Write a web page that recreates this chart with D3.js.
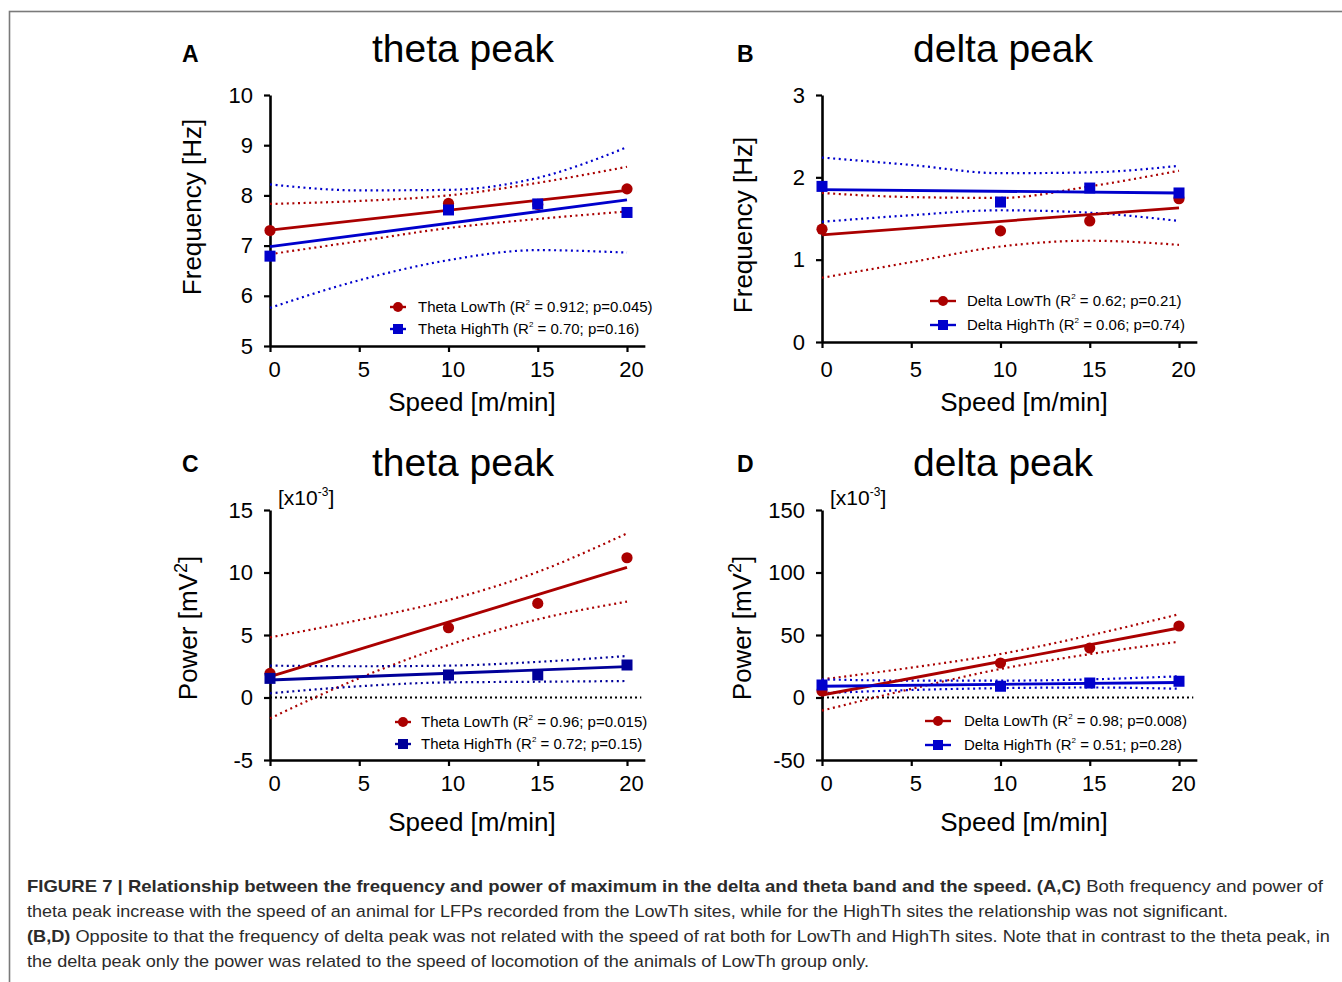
<!DOCTYPE html>
<html><head><meta charset="utf-8">
<script src="https://cdn.jsdelivr.net/npm/d3@7"></script>
<style>
html,body{margin:0;padding:0;background:#fff;}
svg{display:block;}
text{font-family:"Liberation Sans",Arial,sans-serif;fill:#000;}
.cap{font-family:"Liberation Sans Narrow","Arial Narrow","Liberation Sans",sans-serif;fill:#2b2b2b;}
</style></head><body>
<svg id="fig" width="1342" height="982"></svg>
<script>
// ---------- data ----------
const speeds = [0, 10, 15, 20];
const fitSpeeds = [0, 20];
const ciSpeeds = [0, 5, 10, 15, 20];
const xTicks = [0, 5, 10, 15, 20];

// Panel A: theta peak frequency
const freqThetaLow  = [7.30, 7.84, 7.82, 8.13];
const freqThetaHigh = [6.79, 7.71, 7.83, 7.66];
const fitThetaLowA  = [7.31, 8.10];
const fitThetaHighA = [6.98, 7.91];
const ciThetaLowUpA = [7.83, 7.89, 8.00, 8.25, 8.57];
const ciThetaLowDnA = [6.83, 7.09, 7.35, 7.53, 7.68];
const ciThetaHighUpA = [8.22, 8.10, 8.11, 8.35, 8.96];
const ciThetaHighDnA = [5.76, 6.31, 6.71, 6.91, 6.86];
const yTicksA = [5, 6, 7, 8, 9, 10];

// Panel B: delta peak frequency
const freqDeltaLow  = [1.37, 1.35, 1.47, 1.74];
const freqDeltaHigh = [1.89, 1.70, 1.87, 1.81];
const fitDeltaLowB  = [1.30, 1.63];
const fitDeltaHighB = [1.85, 1.81];
const ciDeltaLowUpB = [1.81, 1.76, 1.75, 1.89, 2.08];
const ciDeltaLowDnB = [0.78, 0.97, 1.16, 1.23, 1.18];
const ciDeltaHighUpB = [2.24, 2.15, 2.05, 2.06, 2.14];
const ciDeltaHighDnB = [1.46, 1.54, 1.60, 1.57, 1.47];
const yTicksB = [0, 1, 2, 3];

// Panel C: theta peak power [x10^-3 mV^2]
const powThetaLow  = [1.93, 5.58, 7.53, 11.18];
const powThetaHigh = [1.53, 1.80, 1.80, 2.60];
const fitThetaLowC  = [1.67, 10.41];
const fitThetaHighC = [1.40, 2.47];
const ciThetaLowUpC = [4.81, 6.20, 7.80, 10.05, 13.13];
const ciThetaLowDnC = [-1.67, 1.55, 4.20, 6.25, 7.67];
const ciThetaHighUpC = [2.55, 2.50, 2.55, 2.85, 3.32];
const ciThetaHighDnC = [0.33, 0.90, 1.21, 1.26, 1.32];
const yTicksC = [-5, 0, 5, 10, 15];

// Panel D: delta peak power [x10^-3 mV^2]
const powDeltaLow  = [5.2, 27.6, 39.6, 57.2];
const powDeltaHigh = [10.0, 9.0, 11.6, 13.0];
const fitDeltaLowD  = [2.0, 55.6];
const fitDeltaHighD = [9.0, 12.0];
const ciDeltaLowUpD = [14.5, 23.9, 34.8, 49.7, 66.6];
const ciDeltaLowDnD = [-10.5, 6.9, 22.8, 34.7, 44.6];
const ciDeltaHighUpD = [14.5, 13.5, 13.5, 14.5, 17.0];
const ciDeltaHighDnD = [3.5, 6.0, 7.5, 8.0, 7.0];
const yTicksD = [-50, 0, 50, 100, 150];

const legendA = ["Theta LowTh (R", " = 0.912; p=0.045)", "Theta HighTh (R", " = 0.70; p=0.16)"];
const legendB = ["Delta LowTh (R", " = 0.62; p=0.21)", "Delta HighTh (R", " = 0.06; p=0.74)"];
const legendC = ["Theta LowTh (R", " = 0.96; p=0.015)", "Theta HighTh (R", " = 0.72; p=0.15)"];
const legendD = ["Delta LowTh (R", " = 0.98; p=0.008)", "Delta HighTh (R", " = 0.51; p=0.28)"];

const RED = "#aa0000", BLUE = "#0000cc";

const svg = d3.select("#fig");
svg.append("rect").attr("x", 9.5).attr("y", 11.5).attr("width", 1345).attr("height", 990)
  .attr("fill", "none").attr("stroke", "#7a7a7a").attr("stroke-width", 1.6);

function panel(o) {
  const g = svg.append("g");
  const x = d3.scaleLinear().domain([0, 21]).range([o.x0, o.x0 + 374.85]);
  const y = d3.scaleLinear().domain(o.yDom).range([o.yBot, o.yTop]);
  const fmt = d => String(d);
  // axes
  const ax = d3.axisBottom(x).tickValues(xTicks).tickFormat(fmt).tickSize(6).tickPadding(o.xPad).tickSizeOuter(0);
  const gx = g.append("g").attr("transform", `translate(0,${o.yBot})`).call(ax);
  gx.selectAll("text").attr("font-size", 22).attr("dx", 4).attr("font-family", "Liberation Sans, Arial, sans-serif");
  const ay = d3.axisLeft(y).tickValues(o.yTicks).tickFormat(fmt).tickSize(6).tickPadding(11).tickSizeOuter(0);
  const gy = g.append("g").attr("transform", `translate(${o.x0},0)`).call(ay);
  gy.selectAll("text").attr("font-size", 22).attr("font-family", "Liberation Sans, Arial, sans-serif");
  g.selectAll(".domain").attr("stroke", "#000").attr("stroke-width", 2.6);
  g.selectAll(".tick line").attr("stroke", "#000").attr("stroke-width", 2.2);

  if (o.zero) {
    g.append("line").attr("x1", x(0)).attr("x2", x(20.8)).attr("y1", y(0)).attr("y2", y(0))
      .attr("stroke", "#000").attr("stroke-width", 1.8).attr("stroke-dasharray", "2,3");
  }
  const curve = d3.line().x(d => x(d[0])).y(d => y(d[1])).curve(d3.curveMonotoneX);
  const ci = (vals, col) => g.append("path").attr("d", curve(ciSpeeds.map((s, i) => [s, vals[i]])))
      .attr("fill", "none").attr("stroke", col).attr("stroke-width", 2.2).attr("stroke-dasharray", "2,3.6");
  ci(o.lowUp, RED); ci(o.lowDn, RED); ci(o.highUp, o.blue); ci(o.highDn, o.blue);
  const lin = d3.line().x(d => x(d[0])).y(d => y(d[1]));
  g.append("path").attr("d", lin(fitSpeeds.map((s, i) => [s, o.lowFit[i]])))
    .attr("fill", "none").attr("stroke", RED).attr("stroke-width", 2.8);
  g.append("path").attr("d", lin(fitSpeeds.map((s, i) => [s, o.highFit[i]])))
    .attr("fill", "none").attr("stroke", o.blue).attr("stroke-width", 2.8);
  // points
  g.selectAll(null).data(speeds.map((s, i) => [s, o.low[i]])).join("circle")
    .attr("cx", d => x(d[0])).attr("cy", d => y(d[1])).attr("r", 5.6).attr("fill", RED);
  g.selectAll(null).data(speeds.map((s, i) => [s, o.high[i]])).join("rect")
    .attr("x", d => x(d[0]) - 5.5).attr("y", d => y(d[1]) - 5.5).attr("width", 11).attr("height", 11).attr("fill", o.blue);

  // legend
  const L = o.legend;
  [[RED, L[0], L[1], o.lgY[0], "c"], [o.blue, L[2], L[3], o.lgY[1], "s"]].forEach(([col, a, b, ly, m]) => {
    g.append("line").attr("x1", o.lgX - o.lgW).attr("x2", o.lgX + o.lgW).attr("y1", ly).attr("y2", ly)
      .attr("stroke", col).attr("stroke-width", 2.4);
    if (m === "c") g.append("circle").attr("cx", o.lgX).attr("cy", ly).attr("r", 5).attr("fill", col);
    else g.append("rect").attr("x", o.lgX - 5).attr("y", ly - 5).attr("width", 10).attr("height", 10).attr("fill", col);
    const t = g.append("text").attr("x", o.lgTx).attr("y", ly + 5).attr("font-size", 15);
    t.append("tspan").text(a);
    t.append("tspan").attr("font-size", 8).attr("dy", -7).text("2");
    t.append("tspan").attr("dy", 7).text(b);
  });

  // texts
  g.append("text").attr("x", o.letterX).attr("y", o.letterY).attr("font-size", 23).attr("font-weight", "bold").text(o.letter);
  g.append("text").attr("x", o.titleX).attr("y", o.titleY).attr("font-size", 39).attr("text-anchor", "middle").text(o.title);
  g.append("text").attr("x", x(0) + 202).attr("y", o.xlY).attr("font-size", 26).attr("text-anchor", "middle").text("Speed [m/min]");
  const yl = g.append("text").attr("transform", `translate(${o.ylX},${o.ylY}) rotate(-90)`).attr("font-size", 26).attr("text-anchor", "middle");
  if (o.power) {
    yl.append("tspan").text("Power  [mV");
    yl.append("tspan").attr("font-size", 18).attr("dy", -10).text("2");
    yl.append("tspan").attr("dy", 10).text("]");
    const sc = g.append("text").attr("x", x(0) + 8).attr("y", o.yTop - 5).attr("font-size", 21);
    sc.append("tspan").text("[x10");
    sc.append("tspan").attr("font-size", 12).attr("dy", -9).text("-3");
    sc.append("tspan").attr("dy", 9).text("]");
  } else {
    yl.text("Frequency [Hz]");
  }
}

panel({x0: 270, yDom: [5, 10], yTop: 95, yBot: 346, yTicks: yTicksA, zero: false, blue: BLUE, xPad: 9, xlY: 411,
  low: freqThetaLow, high: freqThetaHigh, lowFit: fitThetaLowA, highFit: fitThetaHighA,
  lowUp: ciThetaLowUpA, lowDn: ciThetaLowDnA, highUp: ciThetaHighUpA, highDn: ciThetaHighDnA,
  legend: legendA, lgX: 398, lgW: 8, lgTx: 418, lgY: [307, 329],
  letter: "A", letterX: 182, letterY: 62, title: "theta peak", titleX: 463, titleY: 62, ylX: 201, ylY: 207, power: false});
panel({x0: 822, yDom: [0, 3], yTop: 95, yBot: 342, yTicks: yTicksB, zero: false, blue: BLUE, xPad: 13, xlY: 411,
  low: freqDeltaLow, high: freqDeltaHigh, lowFit: fitDeltaLowB, highFit: fitDeltaHighB,
  lowUp: ciDeltaLowUpB, lowDn: ciDeltaLowDnB, highUp: ciDeltaHighUpB, highDn: ciDeltaHighDnB,
  legend: legendB, lgX: 943, lgW: 13, lgTx: 967, lgY: [301, 325],
  letter: "B", letterX: 737, letterY: 62, title: "delta peak", titleX: 1003, titleY: 62, ylX: 752, ylY: 225, power: false});
panel({x0: 270, yDom: [-5, 15], yTop: 510, yBot: 760, yTicks: yTicksC, zero: true, blue: "#000099", xPad: 9, xlY: 831,
  low: powThetaLow, high: powThetaHigh, lowFit: fitThetaLowC, highFit: fitThetaHighC,
  lowUp: ciThetaLowUpC, lowDn: ciThetaLowDnC, highUp: ciThetaHighUpC, highDn: ciThetaHighDnC,
  legend: legendC, lgX: 403, lgW: 8, lgTx: 421, lgY: [722, 744],
  letter: "C", letterX: 182, letterY: 472, title: "theta peak", titleX: 463, titleY: 476, ylX: 197, ylY: 628, power: true});
panel({x0: 822, yDom: [-50, 150], yTop: 510, yBot: 760, yTicks: yTicksD, zero: true, blue: BLUE, xPad: 9, xlY: 831,
  low: powDeltaLow, high: powDeltaHigh, lowFit: fitDeltaLowD, highFit: fitDeltaHighD,
  lowUp: ciDeltaLowUpD, lowDn: ciDeltaLowDnD, highUp: ciDeltaHighUpD, highDn: ciDeltaHighDnD,
  legend: legendD, lgX: 938, lgW: 13, lgTx: 964, lgY: [721, 745],
  letter: "D", letterX: 737, letterY: 472, title: "delta peak", titleX: 1003, titleY: 476, ylX: 751, ylY: 628, power: true});

// caption
const capLines = [
  [["FIGURE 7 | Relationship between the frequency and power of maximum in the delta and theta band and the speed. (A,C)", true], [" Both frequency and power of", false]],
  [["theta peak increase with the speed of an animal for LFPs recorded from the LowTh sites, while for the HighTh sites the relationship was not significant.", false]],
  [["(B,D)", true], [" Opposite to that the frequency of delta peak was not related with the speed of rat both for LowTh and HighTh sites. Note that in contrast to the theta peak, in", false]],
  [["the delta peak only the power was related to the speed of locomotion of the animals of LowTh group only.", false]]
];
const capWidths = [1296, 1201, 1303, 842];
capLines.forEach((parts, i) => {
  const t = svg.append("text").attr("class", "cap").attr("x", 27).attr("y", 892 + i * 25)
    .attr("font-size", 17).attr("textLength", capWidths[i]).attr("lengthAdjust", "spacingAndGlyphs");
  parts.forEach(([s, b]) => t.append("tspan").attr("font-weight", b ? "bold" : "normal").text(s));
});
</script>
</body></html>
